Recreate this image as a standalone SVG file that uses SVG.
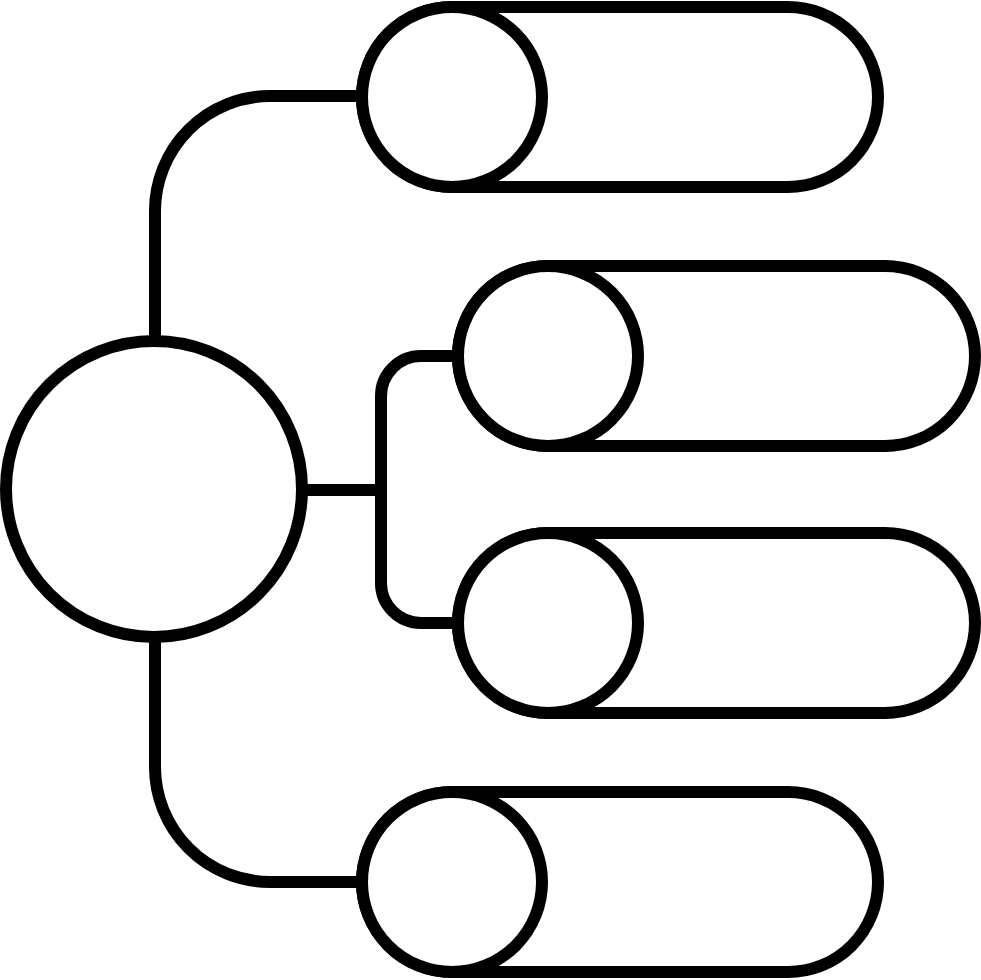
<svg xmlns="http://www.w3.org/2000/svg" width="981" height="980" viewBox="0 0 981 980">
<style>
.s{fill:#fff;stroke:#000;stroke-width:12}
.c{fill:none;stroke:#000;stroke-width:12}
</style>
<rect width="981" height="980" fill="#fff"/>
<g id="connectors">
<path class="c" d="M155 341 V211 A115 115 0 0 1 270 96 H362"/>
<path class="c" d="M155 637 V767 A115 115 0 0 0 270 882 H362"/>
<path class="c" d="M302 490 H381"/>
<path class="c" d="M458 356 H421 A40 40 0 0 0 381 396 V583 A40 40 0 0 0 421 623 H458"/>
</g>
<g id="root"><circle class="s" cx="154" cy="489" r="148"/></g>
<g id="item1"><rect class="s" x="362" y="7" width="516" height="180" rx="90"/><circle class="s" cx="452" cy="97" r="90"/></g>
<g id="item2"><rect class="s" x="458" y="266" width="517" height="180" rx="90"/><circle class="s" cx="548" cy="356" r="90"/></g>
<g id="item3"><rect class="s" x="458" y="533" width="517" height="180" rx="90"/><circle class="s" cx="548" cy="623" r="90"/></g>
<g id="item4"><rect class="s" x="362" y="792" width="516" height="180" rx="90"/><circle class="s" cx="452" cy="882" r="90"/></g>
</svg>
